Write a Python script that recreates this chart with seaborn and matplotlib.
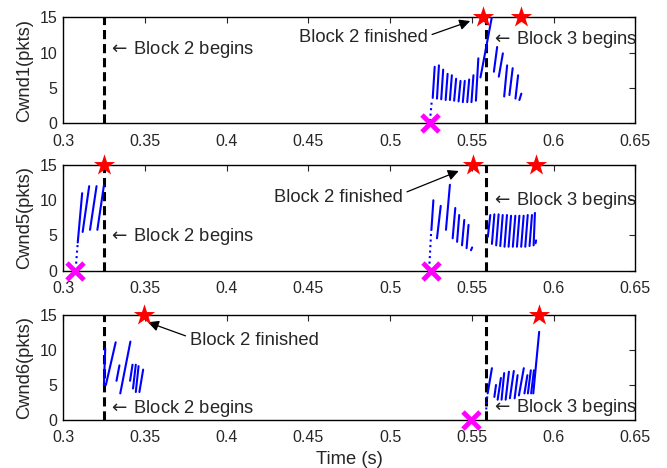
import pandas as pd
import matplotlib
matplotlib.use("Agg")
import matplotlib.pyplot as plt
import seaborn as sns

# === Data ===
x_ticks = [0.3, 0.35, 0.4, 0.45, 0.5, 0.55, 0.6, 0.65]
y_ticks = [0, 5, 10, 15]
panel_labels = ["Cwnd1(pkts)", "Cwnd5(pkts)", "Cwnd6(pkts)"]

# sawtooth strokes: (t_start, cwnd_start, t_end, cwnd_end)
cwnd1_teeth = [
    (0.5261, 3.6, 0.5273, 8.0), (0.5287, 3.5, 0.5299, 8.2), (0.5313, 3.4, 0.5325, 7.6),
    (0.5340, 3.3, 0.5352, 7.0), (0.5366, 3.3, 0.5378, 6.8), (0.5392, 3.2, 0.5404, 6.3),
    (0.5419, 3.1, 0.5431, 6.0), (0.5445, 3.0, 0.5457, 6.0), (0.5472, 3.0, 0.5484, 6.2),
    (0.5498, 3.0, 0.5510, 6.8), (0.5525, 3.2, 0.5540, 9.2), (0.5553, 6.5, 0.5624, 15.2),
    (0.5635, 7.3, 0.5655, 10.8), (0.5665, 6.6, 0.5690, 9.9), (0.5698, 3.8, 0.5716, 8.2),
    (0.5730, 4.0, 0.5750, 7.8), (0.5767, 3.5, 0.5783, 6.8), (0.5791, 3.3, 0.5803, 4.2),
]
cwnd1_ramps = [(0.5244, 0.3, 0.5256, 3.4)]

cwnd5_teeth = [
    (0.3090, 4.0, 0.3117, 11.0), (0.3120, 5.5, 0.3160, 12.0), (0.3165, 5.8, 0.3205, 12.0),
    (0.3210, 5.8, 0.3250, 12.1),
    (0.5253, 5.8, 0.5265, 10.0), (0.5287, 4.6, 0.5310, 9.2), (0.5342, 5.8, 0.5366, 12.2),
    (0.5383, 4.6, 0.5399, 8.9), (0.5410, 4.1, 0.5423, 7.9), (0.5440, 3.6, 0.5454, 7.2),
    (0.5468, 3.2, 0.5480, 6.5), (0.5495, 2.9, 0.5502, 3.3),
    (0.5598, 4.8, 0.5613, 7.9), (0.5623, 3.8, 0.5638, 8.0), (0.5649, 3.6, 0.5664, 8.0),
    (0.5674, 3.5, 0.5689, 7.9), (0.5700, 3.4, 0.5715, 7.9), (0.5725, 3.4, 0.5740, 7.8),
    (0.5751, 3.4, 0.5766, 7.8), (0.5776, 3.4, 0.5791, 7.8), (0.5802, 3.4, 0.5817, 7.8),
    (0.5827, 3.4, 0.5842, 7.9), (0.5853, 3.5, 0.5868, 7.9), (0.5878, 3.6, 0.5886, 8.2),
    (0.5890, 3.9, 0.5893, 4.3),
]
cwnd5_ramps = [(0.3080, 1.0, 0.3090, 4.0), (0.5241, 1.0, 0.5252, 5.8)]

cwnd6_teeth = [
    (0.3250, 5.0, 0.3258, 10.2), (0.3262, 5.0, 0.3322, 11.1), (0.3327, 5.6, 0.3345, 7.8),
    (0.3350, 3.8, 0.3412, 11.2), (0.3410, 5.6, 0.3425, 7.9), (0.3428, 4.5, 0.3445, 7.9),
    (0.3445, 4.0, 0.3462, 7.7), (0.3467, 4.0, 0.3490, 7.2),
    (0.5597, 3.8, 0.5623, 7.4), (0.5638, 3.3, 0.5648, 5.0), (0.5658, 2.9, 0.5678, 6.0),
    (0.5682, 2.9, 0.5698, 6.7), (0.5707, 2.9, 0.5727, 6.9), (0.5733, 3.1, 0.5757, 7.0),
    (0.5762, 3.1, 0.5780, 6.4), (0.5788, 3.5, 0.5818, 7.4), (0.5822, 3.8, 0.5840, 6.4),
    (0.5843, 3.8, 0.5861, 7.1), (0.5863, 3.8, 0.5880, 7.1), (0.5876, 3.8, 0.5912, 12.6),
]
cwnd6_ramps = [(0.5588, 1.5, 0.5595, 3.6)]

block2_begin = 0.325
block3_begin = 0.5587
loss_marks = [[0.5245], [0.3076, 0.5251], [0.5495]]
finish_marks = [[0.5570, 0.5800], [0.3249, 0.5505, 0.5891], [0.3493, 0.5912]]


def strokes_df(strokes):
    rows = []
    for i, (t0, c0, t1, c1) in enumerate(strokes):
        rows.append((t0, c0, i))
        rows.append((t1, c1, i))
    return pd.DataFrame(rows, columns=["t", "cwnd", "seg"])


sns.set_style("white")
plt.rcParams["font.family"] = ["Liberation Sans", "DejaVu Sans"]
plt.rcParams["mathtext.fontset"] = "dejavusans"
plt.rcParams["xtick.direction"] = "in"
plt.rcParams["ytick.direction"] = "in"

fig = plt.figure(figsize=(6.67, 4.68), dpi=100)
boxes = [(0.0945, 0.7365, 0.858, 0.2265),
         (0.0945, 0.4216, 0.858, 0.2258),
         (0.0945, 0.1026, 0.858, 0.2243)]
teeth_all = [cwnd1_teeth, cwnd5_teeth, cwnd6_teeth]
ramps_all = [cwnd1_ramps, cwnd5_ramps, cwnd6_ramps]
fs_tick = 11.5
fs = 13.2

axes = []
for k in range(3):
    ax = fig.add_axes(boxes[k])
    axes.append(ax)
    for x in [block2_begin, block3_begin]:
        ax.axvline(x, color="black", ls=(0, (3, 1.6)), lw=2.2, zorder=2)
    sns.lineplot(data=strokes_df(teeth_all[k]), x="t", y="cwnd", units="seg",
                 estimator=None, sort=False, color="blue", lw=1.5, ax=ax, zorder=3)
    sns.lineplot(data=strokes_df(ramps_all[k]), x="t", y="cwnd", units="seg",
                 estimator=None, sort=False, color="blue", lw=1.5, ls=":", ax=ax, zorder=3)
    sns.scatterplot(x=finish_marks[k], y=[15] * len(finish_marks[k]), marker="*",
                    s=260, color="red", edgecolor="red", linewidth=0, ax=ax,
                    clip_on=False, zorder=5)
    sns.scatterplot(x=loss_marks[k], y=[0] * len(loss_marks[k]), marker="x",
                    s=150, color="magenta", linewidth=3.5, ax=ax,
                    clip_on=False, zorder=5)
    ax.set_xlim(0.3, 0.65)
    ax.set_ylim(0, 15)
    ax.set_xticks(x_ticks)
    ax.set_xticklabels([f"{v:g}" for v in x_ticks])
    ax.set_yticks(y_ticks)
    ax.tick_params(labelsize=fs_tick, top=True, right=True, length=4, width=0.8)
    ax.tick_params(axis="x", pad=7.5)
    ax.tick_params(axis="y", pad=4)
    ax.set_ylabel(panel_labels[k], fontsize=fs, labelpad=5)
    ax.set_xlabel("")
    for sp in ax.spines.values():
        sp.set_linewidth(1.0)
        sp.set_color("black")

# ============ annotations ============
txt = dict(fontsize=fs, va="center", ha="left")
arr = dict(arrowstyle="-|>", color="black", lw=0.9, mutation_scale=16, shrinkA=1, shrinkB=2)

for ax, y in zip(axes, [10.5, 4.8, 1.7]):
    ax.text(0.3272, y, r"$\leftarrow\,$Block 2 begins", **txt)
for ax, y in zip(axes, [11.8, 10.0, 1.8]):
    ax.text(0.5620, y, r"$\leftarrow\,$Block 3 begins", clip_on=False, **txt)

axes[0].annotate("Block 2 finished", xy=(0.5506, 14.6), xytext=(0.5229, 12.1),
                 fontsize=fs, ha="right", va="center",
                 arrowprops=dict(relpos=(1.0, 0.6), **arr))
axes[1].annotate("Block 2 finished", xy=(0.5436, 14.3), xytext=(0.5076, 10.45),
                 fontsize=fs, ha="right", va="center",
                 arrowprops=dict(relpos=(1.0, 0.7), **arr))
axes[2].annotate("Block 2 finished", xy=(0.3503, 14.1), xytext=(0.3777, 11.3),
                 fontsize=fs, ha="left", va="center",
                 arrowprops=dict(relpos=(0.0, 0.7), **arr))

axes[2].set_xlabel("Time (s)", fontsize=fs, labelpad=4)

fig.savefig("out.png", dpi=100)
